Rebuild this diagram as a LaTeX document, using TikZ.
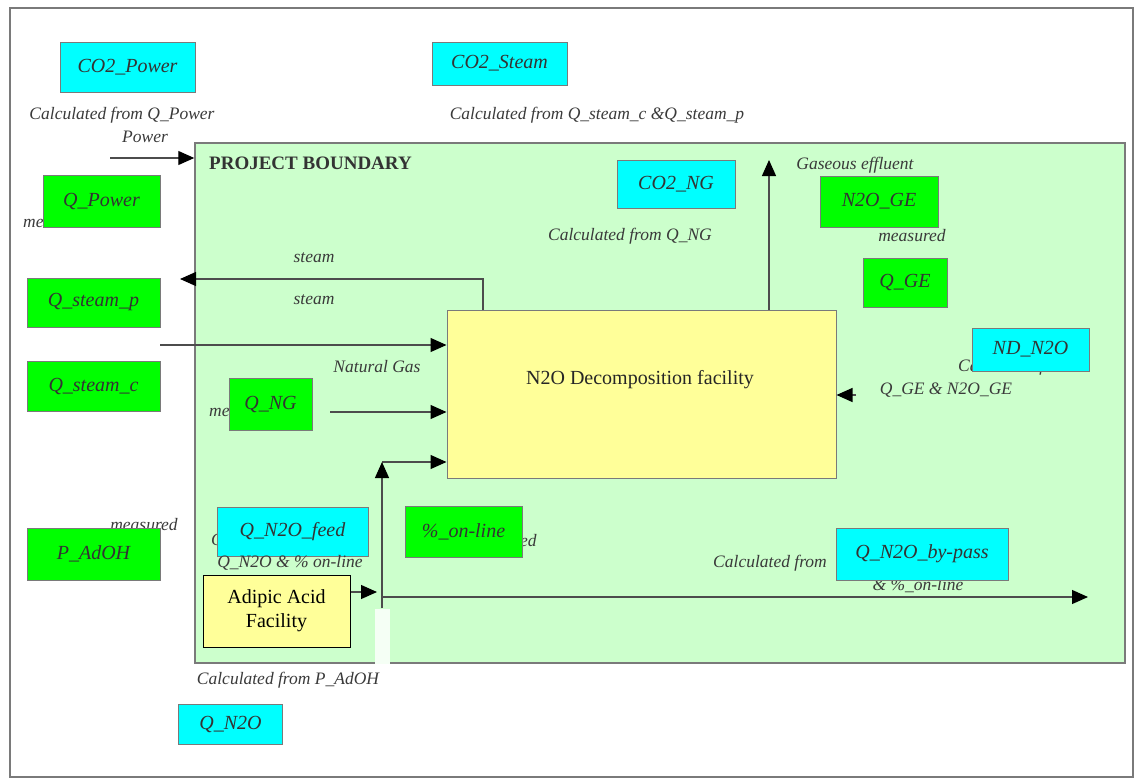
\documentclass[tikz,border=0pt]{standalone}
\usepackage{fontspec}
\setmainfont{Liberation Serif}
\usetikzlibrary{arrows.meta, positioning, calc}
\definecolor{cyanCalc}{HTML}{00FFFF}
\definecolor{greenMeas}{HTML}{00FF00}
\definecolor{greenBoundary}{HTML}{CCFFCC}
\definecolor{yellowFacility}{HTML}{FFFF99}
\definecolor{grayFrame}{HTML}{7A7A7A}
\definecolor{grayText}{HTML}{3A3A3A}

\begin{document}
\begin{tikzpicture}[x=1pt, y=-1pt,
        calcbox/.style={draw=grayFrame, fill=cyanCalc, line width=1pt, inner sep=0pt,
            font=\fontsize{20}{22}\selectfont\itshape, text=black!80},
        measbox/.style={calcbox, fill=greenMeas},
        facility/.style={draw=grayFrame, fill=yellowFacility, line width=1pt, inner sep=0pt,
            font=\fontsize{20}{24}\selectfont, align=center},
        lbl/.style={text=grayText, inner sep=0pt, font=\fontsize{17.5}{22}\selectfont\itshape},
        flow/.style={-{Triangle[length=16pt,width=14pt,black]}, line width=1.2pt, black!70}]
        \useasboundingbox (0,0) rectangle (1135,779);
        \draw[grayFrame, line width=1.5pt] (10,8) rectangle (1133,777);
        \node[draw=grayFrame, fill=greenBoundary, line width=1.5pt, minimum width=930pt, minimum height=520pt] (bound) at (660,403) {};
        \node[lbl, anchor=west, font=\fontsize{19}{22}\selectfont\bfseries, text=black!80] (bndlbl) at (209,163) {PROJECT BOUNDARY};
        \fill[white!80!greenBoundary] (375,609) rectangle (390,664);
        \node[lbl, anchor=west] (measpow) at (23,222) {measured};
        \node[lbl, anchor=west] (measng) at (209,411) {measured};
        \node[lbl] (measpad) at (144,525) {measured};
        \node[lbl] (measonl) at (503,541) {measured};
        \node[lbl, anchor=west] (calcfeed) at (211,541) {Calculated from};
        \node[lbl] (calcnd) at (1015,367) {Calculated from};
        \node[lbl] (calcbyp2) at (918,586) {\& \%\_on-line};
        \node[calcbox, minimum width=135pt, minimum height=50pt] (co2power) at (127.5,67) {CO2\_Power};
        \node[calcbox, minimum width=135pt, minimum height=43pt] (co2steam) at (499.5,63.5) {CO2\_Steam};
        \node[calcbox, minimum width=118pt, minimum height=48pt] (co2ng) at (676,184) {CO2\_NG};
        \node[calcbox, minimum width=117pt, minimum height=43pt] (ndn2o) at (1030.5,349.5) {ND\_N2O};
        \node[calcbox, minimum width=151pt, minimum height=49pt] (qn2ofeed) at (292.5,531.5) {Q\_N2O\_feed};
        \node[calcbox, minimum width=172pt, minimum height=52pt] (bypass) at (922,554) {Q\_N2O\_by-pass};
        \node[calcbox, minimum width=104pt, minimum height=40pt] (qn2o) at (230.5,724) {Q\_N2O};
        \node[measbox, minimum width=117pt, minimum height=52pt] (qpower) at (101.5,201) {Q\_Power};
        \node[measbox, minimum width=118pt, minimum height=51pt] (n2oge) at (879,201.5) {N2O\_GE};
        \node[measbox, minimum width=84pt, minimum height=49pt] (qge) at (905,282.5) {Q\_GE};
        \node[measbox, minimum width=133pt, minimum height=49pt] (qsteamp) at (93.5,302.5) {Q\_steam\_p};
        \node[measbox, minimum width=133pt, minimum height=50pt] (qsteamc) at (93.5,386) {Q\_steam\_c};
        \node[measbox, minimum width=83pt, minimum height=52pt] (qng) at (270.5,404) {Q\_NG};
        \node[measbox, minimum width=117pt, minimum height=51pt] (online) at (463.5,531.5) {\%\_on-line};
        \node[measbox, minimum width=133pt, minimum height=52pt] (padoh) at (93.5,554) {P\_AdOH};
        \node[facility, minimum width=389pt, minimum height=168pt] (decomp) at (641.5,394) {};
        \node[font=\fontsize{20}{22}\selectfont, text=black!85] (decomplbl) at (640,380) {N2O Decomposition facility};
        \node[facility, draw=black, minimum width=147pt, minimum height=72pt] (adipic) at (276.5,611) {Adipic Acid\\Facility};
        \coordinate (pwrin) at (110,158);
        \coordinate (gasout) at (769,160);
        \coordinate (steamtap) at (483,0);
        \coordinate (steamout) at (180,279);
        \coordinate (steamin) at (160,345);
        \coordinate (ngin) at (330,412);
        \coordinate (feedbot) at (382,608);
        \coordinate (feedtop) at (382,462);
        \coordinate (adipicout) at (377,592);
        \coordinate (bypassout) at (1088,597);
        \coordinate (gein) at (856,395);
        \draw[flow] (pwrin) -- (pwrin -| bound.west);
        \draw[flow] (decomp.north -| gasout) -- (gasout);
        \draw[flow] (decomp.north -| steamtap) |- (steamout);
        \foreach \c in {steamin, ngin, feedtop} \draw[flow] (\c) -- (\c -| decomp.west);
        \draw[flow] (feedbot) -- (feedtop);
        \draw[flow] (adipic.east |- adipicout) -- (adipicout);
        \draw[flow] (feedbot |- bypassout) -- (bypassout);
        \draw[flow] (gein) -- (gein -| decomp.east);
        \node[lbl] (calcpow) at (122,115) {Calculated from Q\_Power};
        \node[lbl] (pwrlbl) at (145,137) {Power};
        \node[lbl] (calcsteam) at (597,115) {Calculated from Q\_steam\_c \&Q\_steam\_p};
        \node[lbl] (calcng) at (630,236) {Calculated from Q\_NG};
        \node[lbl] (gaslbl) at (855,165) {Gaseous effluent};
        \node[lbl] (measge) at (912,236) {measured};
        \node[lbl] (steamup) at (314,258) {steam};
        \node[lbl] (steamdn) at (314,300) {steam};
        \node[lbl] (nglbl) at (377,367) {Natural Gas};
        \node[lbl] (calcge) at (946,390) {Q\_GE \& N2O\_GE};
        \node[lbl] (calcfeed2) at (290,563) {Q\_N2O \& \% on-line};
        \node[lbl] (calcbyp) at (770,563) {Calculated from};
        \node[lbl] (calcn2o) at (288,680) {Calculated from P\_AdOH};
    \end{tikzpicture}
\end{document}
